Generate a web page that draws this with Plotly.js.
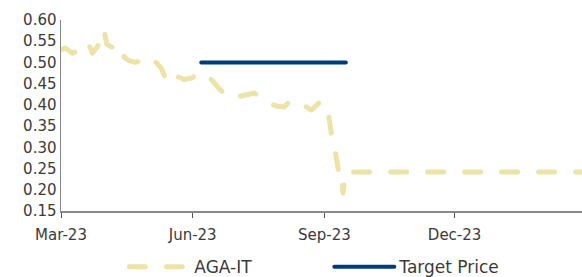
<!DOCTYPE html>
<html>
<head>
<meta charset="utf-8">
<script src="https://cdn.plot.ly/plotly-3.0.1.min.js"></script>
<style>
html,body{margin:0;padding:0;background:#fff;}
#chart{width:582px;height:277px;}
.scatterlayer path.js-line, .legend path.js-line{stroke-linecap:round;stroke-linejoin:round;}
</style>
</head>
<body>
<div id="chart"></div>
<script>
const priceDates = [
  "2023-03-01","2023-03-04","2023-03-09","2023-03-13","2023-03-18","2023-03-20","2023-03-23","2023-03-27",
  "2023-03-31","2023-04-02","2023-04-05","2023-04-09","2023-04-13","2023-04-14","2023-04-17","2023-04-22",
  "2023-04-27","2023-05-01","2023-05-05","2023-05-10","2023-05-13","2023-05-16","2023-05-20","2023-05-22",
  "2023-05-26","2023-05-31","2023-06-03","2023-06-07","2023-06-10","2023-06-14","2023-06-19","2023-06-22",
  "2023-06-26","2023-06-29","2023-07-04","2023-07-08","2023-07-14","2023-07-19","2023-07-24","2023-07-30",
  "2023-08-04","2023-08-08","2023-08-11","2023-08-16","2023-08-23","2023-08-28","2023-09-01","2023-09-03",
  "2023-09-04","2023-09-06","2023-09-09","2023-09-11","2023-09-13","2023-09-14","2023-09-16","2023-09-25",
  "2023-10-15","2023-11-15","2023-12-15","2024-01-15","2024-02-28"
];
const priceValues = [
  0.530,0.534,0.522,0.527,0.536,0.546,0.522,0.540,
  0.576,0.543,0.536,0.530,0.536,0.513,0.505,0.500,
  0.505,0.513,0.505,0.487,0.463,0.450,0.458,0.466,
  0.460,0.463,0.468,0.475,0.463,0.460,0.440,0.430,
  0.423,0.428,0.420,0.423,0.428,0.416,0.404,0.397,
  0.395,0.410,0.407,0.402,0.388,0.404,0.404,0.395,
  0.376,0.329,0.282,0.242,0.246,0.192,0.242,0.242,
  0.242,0.242,0.242,0.242,0.242
];
const targetDates = ["2023-06-07","2023-09-16"];
const targetValues = [0.50,0.50];
const yTicks = [0.15,0.20,0.25,0.30,0.35,0.40,0.45,0.50,0.55,0.60];
const xTickVals = ["2023-03-01","2023-06-01","2023-09-01","2023-12-01"];
const xTickText = ["Mar-23","Jun-23","Sep-23","Dec-23"];

const font = "DejaVu Sans, sans-serif";
const data = [
  {x: priceDates, y: priceValues, type: "scatter", mode: "lines", name: "AGA-IT",
   line: {color: "#EDE3A6", width: 5, dash: "16px,21px"}},
  {x: targetDates, y: targetValues, type: "scatter", mode: "lines", name: "Target Price",
   line: {color: "#003B7B", width: 4}}
];
const layout = {
  width: 582, height: 277,
  margin: {l: 61, r: 0, t: 20, b: 66, autoexpand: false},
  paper_bgcolor: "#fff", plot_bgcolor: "#fff",
  font: {family: font, size: 15, color: "#3a3a3a"},
  showlegend: true,
  legend: {orientation: "h", x: 0.515, xanchor: "center", y: -0.20, yanchor: "top",
           font: {family: font, size: 17, color: "#3a3a3a"}, itemwidth: 60,
           entrywidth: 130, entrywidthmode: "pixels", traceorder: "normal"},
  xaxis: {type: "date", range: ["2023-03-01","2024-02-28"], tickvals: xTickVals, ticktext: xTickText,
          showgrid: false, zeroline: false, showline: true, linecolor: "#888", linewidth: 1.5,
          ticks: "outside", ticklen: 5, tickcolor: "#555", tickwidth: 1, ticklabelstandoff: 4,
          tickfont: {size: 15, color: "#3a3a3a"}},
  yaxis: {range: [0.15, 0.60], tickvals: yTicks, ticktext: yTicks.map(v => v.toFixed(2)),
          showgrid: false, zeroline: false, showline: true, linecolor: "#888", linewidth: 1.5,
          ticks: "", tickfont: {size: 15, color: "#3a3a3a"}}
};
Plotly.newPlot("chart", data, layout, {displayModeBar: false, staticPlot: true});
</script>
</body>
</html>
